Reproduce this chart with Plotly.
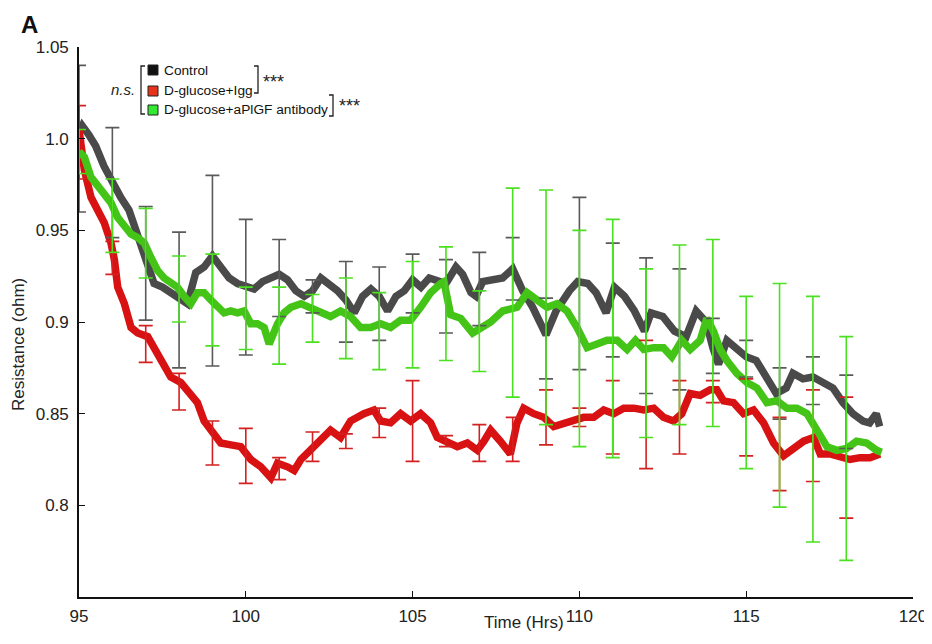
import plotly.graph_objects as go

# ---------------- data ----------------
ctrl_t = [95.0, 95.1, 95.3, 95.5, 95.75, 96.0, 96.25, 96.5, 96.75, 97.0, 97.25, 97.5, 97.75, 98.0, 98.25,
          98.5, 98.75, 99.0, 99.25, 99.5, 99.75, 100.0, 100.25, 100.5, 100.75, 101.0, 101.25, 101.5, 101.75,
          102.0, 102.25, 102.5, 102.75, 103.0, 103.25, 103.5, 103.75, 104.0, 104.25, 104.5, 104.75, 105.0,
          105.25, 105.5, 105.75, 106.0, 106.3, 106.5, 106.75, 106.9, 107.1, 107.4, 107.7, 108.0, 108.3, 108.6,
          109.0, 109.3, 109.7, 109.95, 110.25, 110.5, 110.8, 111.05, 111.35, 111.65, 111.95, 112.15, 112.5,
          112.85, 113.2, 113.5, 113.8, 114.0, 114.17, 114.42, 114.72, 115.0, 115.3, 115.6, 115.9, 116.2,
          116.4, 116.7, 117.0, 117.3, 117.6, 117.9, 118.2, 118.5, 118.7, 118.9, 119.0]
ctrl_v = [1.003, 1.007, 1.002, 0.996, 0.985, 0.976, 0.968, 0.961, 0.948, 0.935, 0.921, 0.919, 0.916, 0.913, 0.910,
          0.927, 0.930, 0.936, 0.930, 0.924, 0.921, 0.919, 0.918, 0.922, 0.924, 0.926, 0.923, 0.917, 0.914,
          0.917, 0.924, 0.921, 0.917, 0.912, 0.905, 0.914, 0.918, 0.914, 0.906, 0.914, 0.917, 0.923,
          0.919, 0.924, 0.923, 0.921, 0.930, 0.926, 0.916, 0.914, 0.922, 0.923, 0.924, 0.929, 0.917, 0.908,
          0.893, 0.906, 0.917, 0.922, 0.921, 0.916, 0.905, 0.919, 0.914, 0.906, 0.895, 0.905, 0.903,
          0.895, 0.892, 0.906, 0.900, 0.886, 0.877, 0.890, 0.886, 0.881, 0.879, 0.870, 0.861, 0.864,
          0.872, 0.869, 0.870, 0.867, 0.864, 0.856, 0.850, 0.846, 0.845, 0.850, 0.843]

igg_t = [95.0, 95.16, 95.36, 95.56, 95.76, 95.96, 96.06, 96.16, 96.36, 96.56, 96.76, 97.06, 97.26, 97.46, 97.75,
         98.05, 98.35, 98.55, 98.75, 99.05, 99.25, 99.55, 99.85, 100.15, 100.45, 100.75, 100.95, 101.25, 101.45,
         101.65, 101.95, 102.25, 102.54, 102.84, 103.14, 103.54, 103.84, 104.04, 104.34, 104.64, 104.94, 105.24,
         105.54, 105.74, 106.04, 106.34, 106.64, 106.94, 107.14, 107.34, 107.63, 107.93, 108.13, 108.33, 108.63,
         108.93, 109.23, 109.53, 109.83, 110.13, 110.43, 110.73, 111.03, 111.33, 111.63, 111.93, 112.23, 112.52,
         112.82, 113.07, 113.32, 113.62, 113.92, 114.12, 114.32, 114.62, 114.92, 115.22, 115.52, 115.82, 116.12,
         116.42, 116.72, 117.02, 117.22, 117.51, 117.81, 118.11, 118.41, 118.71, 119.01]
igg_v = [1.005, 0.983, 0.968, 0.961, 0.954, 0.943, 0.934, 0.919, 0.910, 0.897, 0.894, 0.892, 0.886, 0.879, 0.870,
         0.867, 0.861, 0.856, 0.846, 0.839, 0.834, 0.833, 0.832, 0.825, 0.821, 0.815, 0.823, 0.821, 0.819,
         0.825, 0.830, 0.835, 0.841, 0.837, 0.846, 0.850, 0.852, 0.846, 0.845, 0.850, 0.846, 0.850,
         0.845, 0.837, 0.835, 0.832, 0.834, 0.830, 0.835, 0.841, 0.835, 0.828, 0.845, 0.853, 0.850,
         0.848, 0.843, 0.845, 0.846, 0.848, 0.848, 0.852, 0.850, 0.853, 0.853, 0.852, 0.853, 0.848,
         0.846, 0.850, 0.861, 0.860, 0.863, 0.863, 0.857, 0.856, 0.850, 0.852, 0.845, 0.834, 0.827,
         0.831, 0.835, 0.837, 0.828, 0.828, 0.826, 0.825, 0.826, 0.826, 0.828]

plgf_t = [95.0, 95.16, 95.36, 95.56, 95.76, 95.96, 96.16, 96.36, 96.56, 96.76, 96.96, 97.16, 97.36, 97.55, 97.75,
          97.95, 98.15, 98.35, 98.55, 98.75, 98.95, 99.15, 99.35, 99.55, 99.75, 99.95, 100.15, 100.35, 100.55,
          100.70, 100.95, 101.15, 101.35, 101.65, 101.95, 102.25, 102.54, 102.84, 103.14, 103.44, 103.74, 104.04,
          104.34, 104.64, 104.94, 105.24, 105.54, 105.84, 105.94, 106.14, 106.44, 106.8, 107.04, 107.34, 107.7,
          108.13, 108.43, 108.73, 109.03, 109.33, 109.63, 109.93, 110.23, 110.53, 110.83, 111.13, 111.43, 111.68,
          111.93, 112.23, 112.52, 112.77, 113.07, 113.32, 113.62, 113.82, 114.02, 114.22, 114.42, 114.72, 115.02,
          115.32, 115.62, 115.92, 116.22, 116.52, 116.82, 117.12, 117.42, 117.72, 118.01, 118.31, 118.61, 118.91,
          119.06]
plgf_v = [0.993, 0.990, 0.979, 0.974, 0.970, 0.965, 0.957, 0.952, 0.948, 0.946, 0.943, 0.935, 0.928, 0.924, 0.921,
          0.919, 0.914, 0.910, 0.916, 0.916, 0.912, 0.909, 0.905, 0.906, 0.905, 0.906, 0.899, 0.899, 0.897,
          0.888, 0.899, 0.905, 0.908, 0.910, 0.908, 0.906, 0.903, 0.906, 0.903, 0.897, 0.897, 0.899,
          0.897, 0.901, 0.901, 0.908, 0.916, 0.921, 0.922, 0.904, 0.902, 0.894, 0.897, 0.900, 0.906,
          0.908, 0.916, 0.912, 0.908, 0.910, 0.906, 0.897, 0.886, 0.888, 0.890, 0.890, 0.885, 0.890,
          0.885, 0.886, 0.886, 0.881, 0.890, 0.885, 0.890, 0.902, 0.895, 0.885, 0.879, 0.872, 0.867,
          0.864, 0.856, 0.857, 0.853, 0.853, 0.850, 0.841, 0.832, 0.830, 0.831, 0.835, 0.834, 0.830,
          0.829]

# error bars at whole hours
err_t = list(range(95, 119))
ctrl_err_mean = [1.000, 0.976, 0.932, 0.912, 0.928, 0.919, 0.924, 0.914, 0.911, 0.910, 0.921, 0.914, 0.918,
                 0.929, 0.891, 0.921, 0.912, 0.898, 0.896, 0.887, 0.880, 0.861, 0.868, 0.851]
ctrl_err = [0.040, 0.030, 0.031, 0.037, 0.052, 0.037, 0.021, 0.009, 0.022, 0.020, 0.016, 0.020, 0.020,
            0.017, 0.022, 0.047, 0.031, 0.037, 0.033, 0.015, 0.010, 0.014, 0.013, 0.020]
igg_err_mean = [0.998, 0.935, 0.888, 0.862, 0.834, 0.827, 0.820, 0.832, 0.835, 0.845, 0.846, 0.835, 0.834,
                0.836, 0.848, 0.848, 0.848, 0.855, 0.848, 0.862, 0.848, 0.828, 0.838, 0.826]
igg_err = [0.020, 0.009, 0.010, 0.010, 0.012, 0.015, 0.006, 0.008, 0.004, 0.008, 0.022, 0.003, 0.010,
           0.012, 0.015, 0.005, 0.020, 0.035, 0.020, 0.006, 0.021, 0.020, 0.025, 0.033]
plgf_err_mean = [0.993, 0.958, 0.943, 0.918, 0.912, 0.902, 0.898, 0.902, 0.902, 0.895, 0.904, 0.910, 0.895,
                 0.916, 0.908, 0.891, 0.891, 0.883, 0.893, 0.894, 0.867, 0.860, 0.847, 0.831]
plgf_err = [0.012, 0.020, 0.019, 0.018, 0.025, 0.017, 0.021, 0.013, 0.022, 0.021, 0.029, 0.031, 0.022,
            0.057, 0.064, 0.059, 0.065, 0.046, 0.049, 0.051, 0.047, 0.061, 0.067, 0.061]

x_ticks = [95, 100, 105, 110, 115, 120]
y_ticks = [0.8, 0.85, 0.9, 0.95, 1.0, 1.05]
y_ticktext = ["0.8", "0.85", "0.9", "0.95", "1.0", "1.05"]

series_names = ["Control", "D-glucose+Igg", "D-glucose+aPlGF antibody"]

# ---------------- styles ----------------
LINE_COLORS = ["#4a4a4a", "#d81212", "#45c418"]
BAR_COLORS = ["#5a5a5a", "#d42020", "#4be020"]
LEG_COLORS = ["#111111", "#e8321a", "#33e833"]

fig = go.Figure()

lines = [(ctrl_t, ctrl_v), (igg_t, igg_v), (plgf_t, plgf_v)]
for (t, v), c, n in zip(lines, LINE_COLORS, series_names):
    fig.add_trace(go.Scatter(x=t, y=v, mode="lines", name=n, showlegend=False,
                             line=dict(color=c, width=7.5)))

errs = [(ctrl_err_mean, ctrl_err), (igg_err_mean, igg_err), (plgf_err_mean, plgf_err)]
for (m, e), c in zip(errs, BAR_COLORS):
    fig.add_trace(go.Scatter(x=err_t, y=m, mode="markers", showlegend=False,
                             marker=dict(color="rgba(0,0,0,0)", size=1),
                             error_y=dict(type="data", array=e, symmetric=True,
                                          color=c, thickness=1.6, width=7)))

# The page body has an 8px margin, so the figure sits at page (8, 8).
OFF = 8
W, H = 932 - OFF, 644 - OFF
# plot area in page pixels
PL, PR, PT, PB = 79, 913, 47, 597
def px(x):
    return (x - PL) / (PR - PL)
def py(y):
    return (PB - y) / (PB - PT)

font_main = "Liberation Sans, Arial, sans-serif"
LEG_SIZE = 13.7

annotations = [
    dict(text="<b>A</b>", x=px(29), y=py(9), xref="paper", yref="paper", showarrow=False,
         font=dict(size=24, color="#111", family=font_main), xanchor="center", yanchor="top"),
    dict(text="Time (Hrs)", x=px(524), y=py(622), xref="paper", yref="paper", showarrow=False,
         font=dict(size=17, color="#222", family=font_main), xanchor="center", yanchor="middle"),
    dict(text="Resistance (ohm)", x=px(19), y=py(345), xref="paper", yref="paper", showarrow=False,
         textangle=-90, font=dict(size=17, color="#222", family=font_main),
         xanchor="center", yanchor="middle"),
    dict(text="<i>n.s.</i>", x=px(123), y=py(90), xref="paper", yref="paper", showarrow=False,
         font=dict(size=15, color="#222", family=font_main), xanchor="center", yanchor="middle"),
    dict(text="***", x=px(261), y=py(82), xref="paper", yref="paper", showarrow=False,
         font=dict(size=18, color="#222", family=font_main), xanchor="left", yanchor="middle"),
    dict(text="***", x=px(337), y=py(106), xref="paper", yref="paper", showarrow=False,
         font=dict(size=18, color="#222", family=font_main), xanchor="left", yanchor="middle"),
]
leg_y = [70, 91, 110]
for n, yy in zip(series_names, leg_y):
    annotations.append(dict(text=n, x=px(162), y=py(yy), xref="paper", yref="paper", showarrow=False,
                            font=dict(size=LEG_SIZE, color="#111", family=font_main),
                            xanchor="left", yanchor="middle"))

shapes = []
for c, yy in zip(LEG_COLORS, leg_y):
    shapes.append(dict(type="rect", xref="paper", yref="paper",
                       x0=px(148), x1=px(158), y0=py(yy + 5), y1=py(yy - 5),
                       fillcolor=c, line=dict(color="#222", width=1)))

def bracket(x, y0, y1, left=True):
    d = 4 if left else -4
    return dict(type="path", xref="paper", yref="paper",
                path=f"M {px(x + d)} {py(y0)} L {px(x)} {py(y0)} L {px(x)} {py(y1)} L {px(x + d)} {py(y1)}",
                line=dict(color="#222", width=1.3))

shapes.append(bracket(141, 66, 114, left=True))
shapes.append(bracket(258, 66, 93, left=False))
shapes.append(bracket(333, 95, 116, left=False))

fig.update_layout(
    width=W, height=H,
    margin=dict(l=PL - OFF, r=932 - PR, t=PT - OFF, b=644 - PB, autoexpand=False),
    paper_bgcolor="white", plot_bgcolor="white",
    showlegend=False,
    annotations=annotations,
    shapes=shapes,
    font=dict(family=font_main, size=17, color="#222"),
)
fig.update_xaxes(range=[95, 120], tickvals=x_ticks, ticks="inside", ticklen=6, tickwidth=1.3,
                 tickcolor="#111", showline=True, linecolor="#111", linewidth=1.6, automargin=False,
                 showgrid=False, zeroline=False, tickfont=dict(size=17, color="#222"),
                 ticklabelstandoff=3)
fig.update_yaxes(range=[0.75, 1.05], tickvals=y_ticks, ticktext=y_ticktext, ticks="inside", ticklen=6,
                 tickwidth=1.3, tickcolor="#111", showline=True, linecolor="#111", linewidth=1.6,
                 automargin=False, showgrid=False, zeroline=False, tickfont=dict(size=17, color="#222"),
                 ticklabelstandoff=5)

fig.write_html("out.html")
